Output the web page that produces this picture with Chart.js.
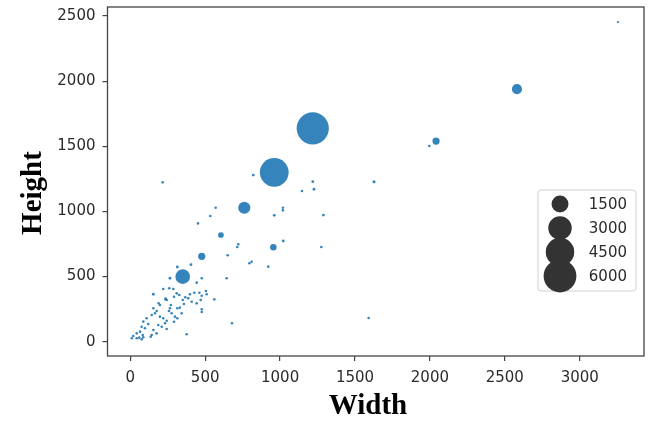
<!DOCTYPE html>
<html>
<head>
<meta charset="utf-8">
<script src="https://cdn.jsdelivr.net/npm/chart.js@4"></script>
<style>
  html, body { margin: 0; padding: 0; background: #fff; }
  #wrap { width: 665px; height: 438px; position: relative; }
</style>
</head>
<body>
<div id="wrap"><canvas id="chart" width="665" height="438"></canvas></div>
<script>
// Width / height / marker size per image.
const widths = [
  1218, 961, 761, 350, 2581, 2041, 477, 955, 605,
  1996, 1218, 1627, 1146, 1226, 1289, 1275, 1591, 3255, 821,
  216, 570, 534, 452, 1019, 1019, 961, 721, 714, 1021,
  650, 795, 810, 921, 314, 405, 265, 477, 643, 443,
  154, 220, 260, 287, 310, 327, 398, 427, 461, 477,
  505, 510, 561, 236, 387, 410, 443, 470, 358, 331,
  189, 198, 265, 258, 276, 314, 298, 314, 477, 477,
  679, 376, 154, 176, 165, 143, 198, 220, 243, 232,
  210, 243, 109, 87, 120, 76, 98, 65, 43, 20,
  10, 60, 87, 143, 136, 243, 271, 292, 350, 367,
  343, 292, 187, 154, 176, 83, 43, 76,
];
const heights = [
  1638, 1300, 1028, 499, 1939, 1540, 655, 725, 819,
  1502, 1228, 1228, 1157, 1170, 972, 727, 182, 2453, 1279,
  1223, 1028, 965, 908, 1028, 1008, 970, 748, 727, 773,
  663, 602, 614, 576, 573, 591, 487, 487, 487, 453,
  364, 404, 410, 404, 371, 358, 364, 376, 376, 353,
  389, 364, 325, 328, 333, 307, 294, 320, 289, 261,
  295, 282, 256, 236, 218, 256, 192, 180, 249, 228,
  141, 57, 256, 236, 218, 205, 192, 180, 161, 141,
  115, 97, 180, 154, 136, 115, 103, 77, 64, 44,
  26, 31, 34, 51, 38, 320, 282, 345, 320, 341,
  218, 153, 128, 90, 64, 51, 26, 18,
];
const sizes = [
  5800, 4600, 750, 1100, 500, 230, 230, 180, 130,
  15, 20, 25, 15, 20, 20, 15, 15, 10, 20,
  15, 15, 15, 15, 15, 15, 20, 15, 15, 20,
  15, 15, 15, 15, 20, 20, 20, 15, 15, 15,
  20, 15, 15, 15, 15, 15, 15, 15, 15, 15,
  15, 15, 15, 30, 15, 15, 15, 15, 15, 15,
  15, 15, 15, 15, 15, 15, 15, 15, 15, 15,
  15, 15, 15, 15, 15, 15, 15, 15, 15, 15,
  15, 15, 15, 15, 15, 15, 15, 15, 15, 15,
  15, 15, 15, 15, 15, 15, 15, 15, 15, 15,
  15, 15, 15, 15, 15, 15, 15, 15,
];

const xTicks = [0, 500, 1000, 1500, 2000, 2500, 3000];
const yTicks = [0, 500, 1000, 1500, 2000, 2500];
const legendSizes = [1500, 3000, 4500, 6000];

const BLUE = "rgba(31,119,180,0.9)";
const INK = "#2b2b2b";
const FRAME = "#444";

// area-proportional marker, like a scatter "s" argument
function sizeToRadius(s) {
  return 0.205 * Math.sqrt(s) + 0.5;
}

const points = widths.map((w, i) => ({ x: w, y: heights[i], r: sizeToRadius(sizes[i]) }));

// ── Frame, axis titles and size legend ───────────────────────────

const decorations = {
  id: "decorations",
  afterDraw(chart) {
    const ctx = chart.ctx;
    const a = chart.chartArea;
    ctx.save();

    ctx.strokeStyle = FRAME;
    ctx.lineWidth = 1.3;
    ctx.strokeRect(a.left, a.top, a.right - a.left, a.bottom - a.top);

    ctx.fillStyle = "#000";
    ctx.font = "bold 29px 'Liberation Serif', 'Times New Roman', serif";
    ctx.textAlign = "center";
    ctx.textBaseline = "alphabetic";
    ctx.fillText("Width", 368, 414);

    ctx.translate(41, 193);
    ctx.rotate(-Math.PI / 2);
    ctx.fillText("Height", 0, 0);
    ctx.setTransform(1, 0, 0, 1, 0, 0);

    // legend box
    const bx = 538, by = 190, bw = 98, bh = 101;
    ctx.beginPath();
    ctx.roundRect(bx, by, bw, bh, 3);
    ctx.fillStyle = "rgba(255,255,255,0.8)";
    ctx.fill();
    ctx.strokeStyle = "#d0d0d0";
    ctx.lineWidth = 1;
    ctx.stroke();

    const rowY = [204, 228, 252, 276];
    ctx.font = "15px 'DejaVu Sans', sans-serif";
    ctx.textAlign = "right";
    ctx.textBaseline = "middle";
    legendSizes.forEach((s, i) => {
      ctx.beginPath();
      ctx.arc(560, rowY[i], sizeToRadius(s), 0, Math.PI * 2);
      ctx.fillStyle = "#333";
      ctx.fill();
    });
    legendSizes.forEach((s, i) => {
      ctx.fillStyle = INK;
      ctx.fillText(String(s), 627, rowY[i] + 1);
    });
    ctx.restore();
  },
};

const tickFont = { family: "'DejaVu Sans', sans-serif", size: 15 };
const plain = (v) => String(v);

new Chart(document.getElementById("chart"), {
  type: "bubble",
  data: {
    datasets: [{
      data: points,
      backgroundColor: BLUE,
      borderWidth: 0,
      hoverRadius: 0,
    }],
  },
  options: {
    responsive: false,
    animation: false,
    layout: { autoPadding: false, padding: { top: 7, right: 21, left: 0, bottom: 0 } },
    plugins: { legend: { display: false }, tooltip: { enabled: false } },
    scales: {
      x: {
        type: "linear",
        min: -152,
        max: 3429,
        afterBuildTicks: (scale) => { scale.ticks = xTicks.map((v) => ({ value: v })); },
        afterFit: (scale) => {
          scale.height = 82;
          scale.paddingLeft = 0;
          scale.paddingRight = 0;
        },
        grid: { drawOnChartArea: false, drawTicks: true, tickLength: 5, color: FRAME, lineWidth: 1.2 },
        border: { display: false },
        ticks: { color: INK, font: tickFont, padding: 8, maxRotation: 0, callback: plain },
      },
      y: {
        type: "linear",
        min: -110,
        max: 2569,
        afterBuildTicks: (scale) => { scale.ticks = yTicks.map((v) => ({ value: v })); },
        afterFit: (scale) => {
          scale.width = 107.5;
          scale.paddingTop = 0;
          scale.paddingBottom = 0;
        },
        grid: { drawOnChartArea: false, drawTicks: true, tickLength: 5, color: FRAME, lineWidth: 1.2 },
        border: { display: false },
        ticks: { color: INK, font: tickFont, padding: 7, callback: plain },
      },
    },
  },
  plugins: [decorations],
});
</script>
</body>
</html>
